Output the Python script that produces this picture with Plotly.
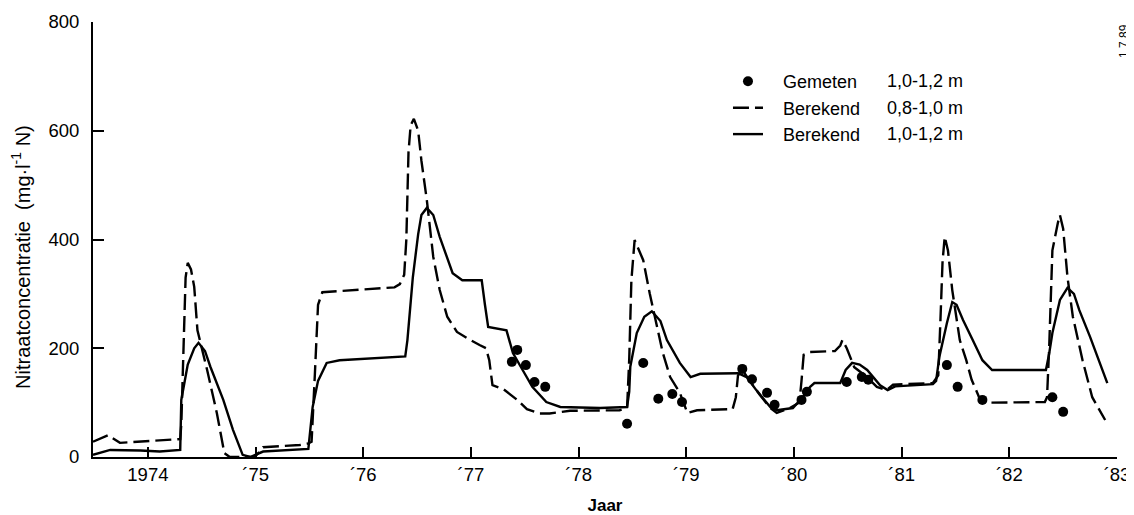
import plotly.graph_objects as go

# Berekend 0,8-1,0 m (dashed)
dash_year = [1973.49, 1973.63, 1973.74, 1973.88, 1974.11, 1974.30, 1974.31, 1974.33, 1974.35, 1974.37,
             1974.40, 1974.43, 1974.46, 1974.55, 1974.64, 1974.71, 1974.76, 1974.99, 1975.04, 1975.07,
             1975.41, 1975.49, 1975.52, 1975.55, 1975.58, 1975.62, 1975.97, 1976.29, 1976.34, 1976.38,
             1976.40, 1976.42, 1976.44, 1976.47, 1976.51, 1976.54, 1976.59, 1976.65, 1976.71, 1976.78,
             1976.87, 1976.96, 1977.08, 1977.14, 1977.17, 1977.20, 1977.30, 1977.43, 1977.52, 1977.64,
             1977.73, 1977.92, 1978.38, 1978.45, 1978.47, 1978.49, 1978.52, 1978.60, 1978.66, 1978.74,
             1978.78, 1978.85, 1978.94, 1979.01, 1979.10, 1979.43, 1979.46, 1979.48, 1979.52, 1979.59,
             1979.68, 1979.78, 1979.84, 1979.96, 1980.05, 1980.07, 1980.09, 1980.15, 1980.38, 1980.43,
             1980.45, 1980.49, 1980.52, 1980.56, 1980.66, 1980.77, 1980.86, 1980.92, 1981.29, 1981.34,
             1981.36, 1981.38, 1981.40, 1981.43, 1981.47, 1981.54, 1981.60, 1981.65, 1981.73, 1981.82,
             1982.33, 1982.35, 1982.37, 1982.40, 1982.45, 1982.47, 1982.50, 1982.54, 1982.59, 1982.68,
             1982.77, 1982.89]
dash_val = [28, 40, 26, 28, 30, 33, 60, 200, 330, 357,
            345, 313, 233, 160, 81, 7, 0, 0, 10, 18,
            22, 25, 28, 150, 280, 303, 307, 312, 318, 335,
            400, 560, 610, 622, 600, 545, 473, 368, 307, 258,
            230, 219, 206, 200, 178, 132, 125, 105, 88, 80,
            80, 85, 86, 90, 180, 325, 399, 362, 301, 228,
            193, 147, 118, 81, 86, 88, 110, 150, 160, 140,
            115, 90, 81, 90, 100, 140, 188, 193, 195, 205,
            215, 200, 184, 165, 150, 129, 123, 133, 136, 150,
            250, 360, 405, 380, 307, 215, 178, 142, 105, 100,
            101, 110, 200, 380, 430, 445, 420, 331, 258, 178,
            110, 68]

# Berekend 1,0-1,2 m (solid)
solid_year = [1973.49, 1973.65, 1973.93, 1974.11, 1974.30, 1974.31, 1974.37, 1974.43, 1974.47, 1974.53,
              1974.58, 1974.70, 1974.79, 1974.88, 1974.95, 1975.07, 1975.49, 1975.51, 1975.53, 1975.58,
              1975.66, 1975.78, 1975.97, 1976.39, 1976.41, 1976.46, 1976.51, 1976.54, 1976.59, 1976.65,
              1976.71, 1976.83, 1976.92, 1977.10, 1977.13, 1977.16, 1977.33, 1977.36, 1977.39, 1977.48,
              1977.57, 1977.70, 1977.83, 1978.20, 1978.45, 1978.47, 1978.48, 1978.54, 1978.61, 1978.68,
              1978.76, 1978.82, 1978.94, 1979.04, 1979.13, 1979.48, 1979.56, 1979.65, 1979.78, 1979.84,
              1979.99, 1980.08, 1980.15, 1980.19, 1980.43, 1980.48, 1980.54, 1980.61, 1980.68, 1980.80,
              1980.87, 1980.94, 1981.29, 1981.32, 1981.35, 1981.42, 1981.47, 1981.51, 1981.57, 1981.66,
              1981.75, 1981.84, 1982.34, 1982.37, 1982.40, 1982.47, 1982.54, 1982.60, 1982.65, 1982.75,
              1982.84, 1982.91]
solid_val = [4, 13, 12, 10, 13, 105, 170, 200, 210, 195,
             166, 105, 50, 4, 0, 10, 15, 50, 92, 140,
             173, 178, 180, 185, 215, 330, 410, 445, 458, 445,
             405, 338, 325, 325, 280, 239, 233, 210, 191, 160,
             129, 101, 92, 90, 92, 120, 166, 228, 258, 268,
             250, 215, 173, 147, 153, 154, 147, 123, 92, 86,
             90, 110, 129, 136, 136, 160, 173, 170, 160, 132,
             123, 130, 134, 140, 184, 246, 285, 280, 252, 215,
             178, 160, 160, 190, 228, 289, 311, 300, 270, 221,
             173, 136]

# Gemeten 1,0-1,2 m (dots)
meas_year = [1977.38, 1977.43, 1977.51, 1977.59, 1977.69, 1978.45, 1978.60, 1978.74, 1978.87, 1978.96,
             1979.52, 1979.61, 1979.75, 1979.82, 1980.07, 1980.12, 1980.49, 1980.63, 1980.69, 1981.42,
             1981.52, 1981.75, 1982.40, 1982.50]
meas_val = [175, 197, 169, 138, 129, 61, 173, 107, 116, 101,
            162, 143, 118, 96, 105, 120, 138, 147, 142, 169,
            129, 105, 110, 83]

tick_years = [1974, 1975, 1976, 1977, 1978, 1979, 1980, 1981, 1982, 1983]
tick_text = ["1974", "´75", "´76", "´77", "´78", "´79", "´80", "´81", "´82", "´83"]
y_ticks = [0, 200, 400, 600, 800]

legend_names = ["Gemeten", "Berekend", "Berekend"]
legend_depths = ["1,0-1,2 m", "0,8-1,0 m", "1,0-1,2 m"]

FONT = "Liberation Sans, Arial, sans-serif"
PAD = "\u00a0\u00a0\u00a0"  # gap between legend symbol and label

fig = go.Figure()
fig.add_trace(go.Scatter(x=meas_year, y=meas_val, mode="markers", name=PAD + legend_names[0],
                         marker=dict(color="black", size=10)))
fig.add_trace(go.Scatter(x=dash_year, y=dash_val, mode="lines", name=PAD + legend_names[1],
                         line=dict(color="black", width=2.4, dash="16px,6px")))
fig.add_trace(go.Scatter(x=solid_year, y=solid_val, mode="lines", name=PAD + legend_names[2],
                         line=dict(color="black", width=2.4)))

depth_y = [0.8644, 0.8034, 0.7425]
for d, yy in zip(legend_depths, depth_y):
    fig.add_annotation(x=0.7735, y=yy, xref="paper", yref="paper",
                       text=d, showarrow=False, xanchor="left", yanchor="middle",
                       font=dict(size=18, color="black", family=FONT))

# y-axis title (placed as annotation for precise position)
fig.add_annotation(x=-0.0703, y=0.46, xref="paper", yref="paper",
                   text="Nitraatconcentratie  (mg·l<sup>-1</sup> N)", textangle=-90,
                   showarrow=False, xanchor="center", yanchor="middle",
                   font=dict(size=20, color="black", family=FONT))

fig.add_annotation(x=1.0, y=1.0, xref="paper", yref="paper", text="1.7.89", textangle=-90,
                   showarrow=False, xanchor="center", yanchor="top", xshift=7,
                   font=dict(size=12, color="black", family=FONT))

fig.update_layout(
    width=1126, height=507,
    margin=dict(l=85, r=17, t=14, b=58),
    paper_bgcolor="white", plot_bgcolor="white",
    font=dict(family=FONT, color="black", size=18),
    showlegend=True,
    legend=dict(x=0.6201, y=0.9055, xanchor="left", yanchor="top", bgcolor="rgba(0,0,0,0)",
                font=dict(size=18, family=FONT, color="black"), tracegroupgap=0,
                itemwidth=30),
    xaxis=dict(range=[1973.49, 1983.0], tickvals=tick_years, ticktext=tick_text,
               ticks="inside", ticklen=10, tickwidth=1.5, tickcolor="black",
               showline=True, linecolor="black", linewidth=2, showgrid=False, zeroline=False,
               title=dict(text="<b>Jaar</b>", font=dict(size=17, family=FONT), standoff=23),
               automargin=False,
               tickfont=dict(size=18.5, family=FONT)),
    yaxis=dict(range=[0, 800], tickvals=y_ticks, ticks="inside", ticklen=11, tickwidth=1.5,
               tickcolor="black", showline=True, linecolor="black", linewidth=2,
               showgrid=False, zeroline=False, ticklabelstandoff=8, automargin=False,
               tickfont=dict(size=18.5, family=FONT)),
)

fig.write_html("out.html")
